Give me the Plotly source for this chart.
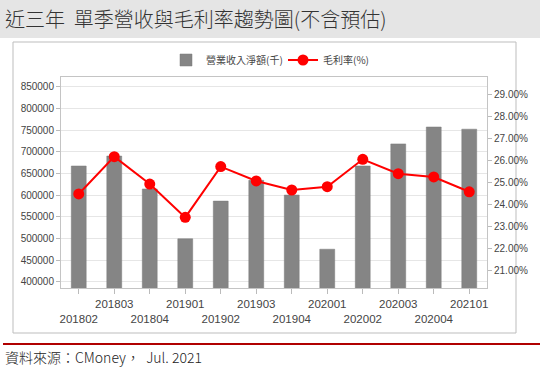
import plotly.graph_objects as go

# ---- data ----
quarters = ["201802", "201803", "201804", "201901", "201902", "201903",
            "201904", "202001", "202002", "202003", "202004", "202101"]
revenue = [667000, 690000, 614000, 499000, 586000, 634000,
           600000, 475000, 667000, 718000, 757000, 752000]
gross_margin = [24.48, 26.17, 24.93, 23.42, 25.72, 25.07,
                24.66, 24.81, 26.05, 25.40, 25.25, 24.58]
left_ticks = [400000, 450000, 500000, 550000, 600000, 650000,
              700000, 750000, 800000, 850000]
right_ticks = [21, 22, 23, 24, 25, 26, 27, 28, 29]
right_tick_text = ["21.00%", "22.00%", "23.00%", "24.00%", "25.00%",
                   "26.00%", "27.00%", "28.00%", "29.00%"]
title_text = "近三年&nbsp;&nbsp;單季營收與毛利率趨勢圖(不含預估)"
source_text = "資料來源：CMoney，&nbsp;&nbsp;Jul. 2021"
bar_name = "營業收入淨額(千)"
line_name = "毛利率(%)"

# staggered category labels (odd ones on the upper row)
tick_text = [q if i % 2 == 1 else "&nbsp;<br>" + q for i, q in enumerate(quarters)]

W, H = 540, 385
L, R, T, B = 61, 53, 77, 97
pw, ph = W - L - R, H - T - B


def px(x):
    return (x - L) / pw


def py(y):
    return (H - B - y) / ph


fig = go.Figure()
fig.add_trace(go.Bar(
    x=quarters, y=revenue, name=bar_name, yaxis="y",
    marker=dict(color="#858585", line=dict(color="#7a7a7a", width=0.5)),
    width=0.42,
))
fig.add_trace(go.Scatter(
    x=quarters, y=gross_margin, name=line_name, yaxis="y2",
    mode="lines+markers",
    line=dict(color="#ff0000", width=2),
    marker=dict(color="#ff0000", size=11),
))

font_fam = "Liberation Sans, Arial, Noto Sans CJK TC, sans-serif"
cjk_fam = "Noto Sans CJK TC, Microsoft JhengHei, sans-serif"

shapes = [
    # title bar
    dict(type="rect", xref="paper", yref="paper", x0=px(0), x1=px(540), y0=py(38), y1=py(0),
         fillcolor="#e5e5e5", line=dict(width=0), layer="below"),
    # chart frame
    dict(type="rect", xref="paper", yref="paper", x0=px(13), x1=px(516), y0=py(333), y1=py(42),
         fillcolor="rgba(0,0,0,0)", line=dict(color="#bdbdbd", width=1), layer="below"),
    # footer red line
    dict(type="line", xref="paper", yref="paper", x0=px(3), x1=px(540), y0=py(344), y1=py(344),
         line=dict(color="#b00000", width=2)),
]

annotations = [
    dict(text=title_text, xref="paper", yref="paper", x=px(3), y=py(18),
         xanchor="left", yanchor="middle", showarrow=False,
         font=dict(family=cjk_fam, size=20, color="#333", weight=300)),
    dict(text=source_text, xref="paper", yref="paper", x=px(3), y=py(357),
         xanchor="left", yanchor="middle", showarrow=False,
         font=dict(family=cjk_fam, size=14, color="#222", weight=300)),
]

fig.update_layout(
    width=W, height=H,
    margin=dict(l=L, r=R, t=T, b=B, autoexpand=False),
    paper_bgcolor="white", plot_bgcolor="white",
    font=dict(family=font_fam, color="#444"),
    showlegend=True,
    legend=dict(orientation="h", x=px(166), xanchor="left", y=py(60), yanchor="middle",
                entrywidth=72, entrywidthmode="pixels",
                font=dict(family=cjk_fam, size=10, color="#444"),
                bgcolor="rgba(0,0,0,0)"),
    shapes=shapes,
    annotations=annotations,
    xaxis=dict(
        type="category", tickmode="array", tickvals=quarters, ticktext=tick_text,
        tickangle=0, automargin=False,
        ticks="outside", ticklen=5, tickcolor="#bbb",
        showline=True, linecolor="#c4c4c4", mirror=True,
        showgrid=False, tickfont=dict(size=11.5, color="#444"),
        range=[-0.5, 11.5],
    ),
    yaxis=dict(
        range=[385500, 872400], tickvals=left_ticks, tickformat="d",
        automargin=False,
        ticks="outside", ticklen=4, tickcolor="#bbb",
        showline=True, linecolor="#c4c4c4", mirror=True,
        showgrid=True, gridcolor="#e6e6e6", zeroline=False,
        tickfont=dict(size=10, color="#444"),
    ),
    yaxis2=dict(
        overlaying="y", side="right", automargin=False,
        range=[20.22, 29.78], tickmode="array", tickvals=right_ticks, ticktext=right_tick_text,
        ticks="outside", ticklen=4, tickcolor="#bbb",
        showgrid=False, zeroline=False, showline=False,
        tickfont=dict(size=10, color="#444"),
    ),
)

fig.write_html("out.html", config={"displayModeBar": False},
               post_script="document.body.style.margin='0';")
